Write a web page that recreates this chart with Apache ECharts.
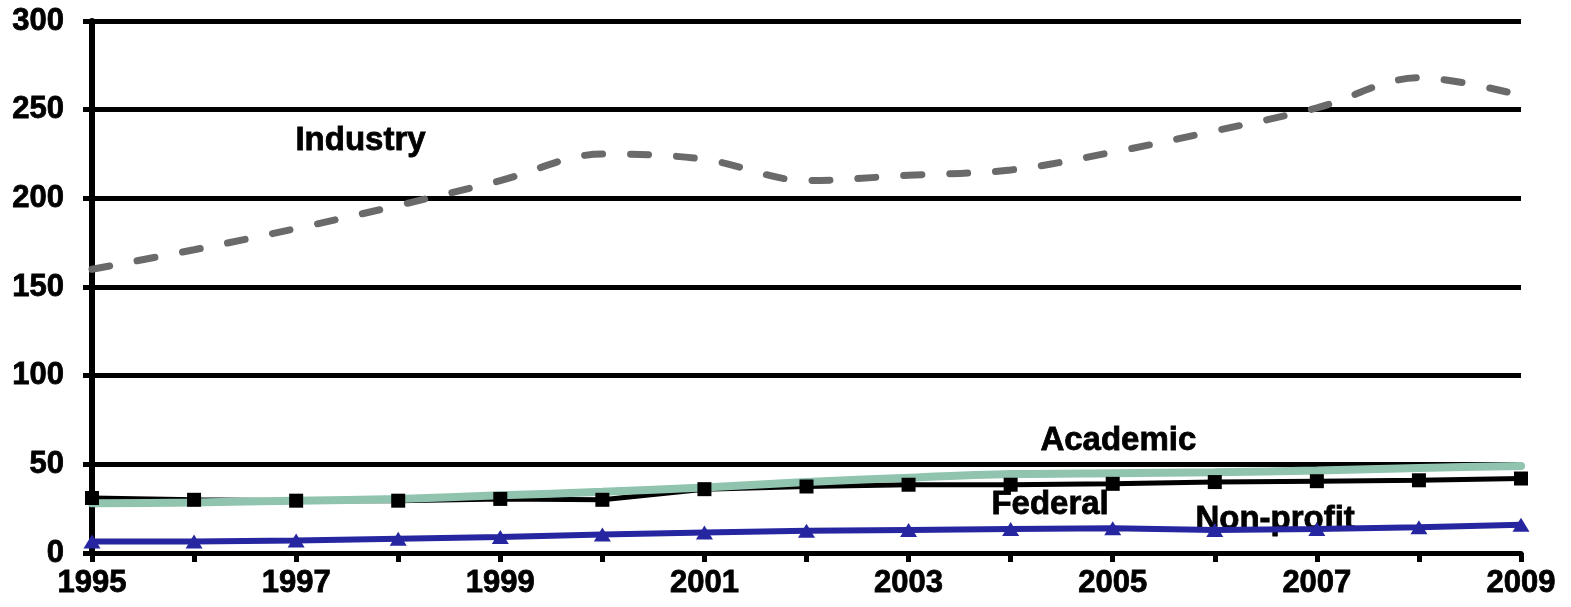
<!DOCTYPE html>
<html>
<head>
<meta charset="utf-8">
<script src="https://cdn.jsdelivr.net/npm/echarts@6/dist/echarts.min.js"></script>
<style>
  html, body { margin: 0; padding: 0; background: #fff; }
  #chart { width: 1571px; height: 607px; }
</style>
</head>
<body>
<div id="chart"></div>
<script>
// R&D by performing sector, 1995-2009
const years = ['1995','1996','1997','1998','1999','2000','2001','2002','2003','2004','2005','2006','2007','2008','2009'];
const industry  = [160, 171, 183, 196, 210, 225, 222, 210, 213, 216, 226, 238, 251, 268, 258];
const federal   = [31, 30, 29.5, 29.5, 30.5, 30, 36, 37.5, 38.5, 38.5, 39, 40, 40.5, 41, 42];
const academic  = [28, 28.5, 29.5, 30.5, 32.5, 34.5, 37, 40, 42.5, 44.5, 45, 45.5, 46.5, 48, 49];
const nonprofit = [6.5, 6.5, 7, 8, 9, 10.5, 11.5, 12.5, 13, 13.5, 14, 13, 13.5, 14.5, 16];
const yTicks = { min: 0, max: 300, step: 50 };

const FONT = '"Liberation Sans", Arial, sans-serif';
const chart = echarts.init(document.getElementById('chart'));

// heavy bold text: bold face plus a thin outline in the same colour
const heavy = { textBorderColor: '#000', textBorderWidth: 0.8 };

const seriesLabel = (text, x, y) => ({
  type: 'text', left: x, top: y,
  style: { text, font: 'bold 33px ' + FONT, fill: '#000', stroke: '#000', lineWidth: 0.8 }
});

chart.setOption({
  animation: false,
  grid: { left: 92, right: 50, top: 21, bottom: 54 },
  xAxis: {
    type: 'category',
    data: years,
    boundaryGap: false,
    axisLine: { lineStyle: { color: '#000', width: 5 } },
    axisTick: { show: true, interval: 0, length: 9, lineStyle: { color: '#000', width: 5 } },
    axisLabel: Object.assign({ interval: 1, margin: 15, color: '#000', fontFamily: FONT, fontWeight: 'bold', fontSize: 31 }, heavy),
    splitLine: { show: false }
  },
  yAxis: {
    type: 'value',
    min: yTicks.min, max: yTicks.max, interval: yTicks.step,
    axisLine: { show: true, lineStyle: { color: '#000', width: 6 } },
    axisTick: { show: true, length: 9, lineStyle: { color: '#000', width: 5 } },
    axisLabel: Object.assign({ margin: 28, color: '#000', fontFamily: FONT, fontWeight: 'bold', fontSize: 31 }, heavy),
    splitLine: { show: true, lineStyle: { color: '#000', width: 5 } }
  },
  series: [
    {
      name: 'Industry', type: 'line', data: industry, smooth: 0.35,
      showSymbol: false, symbol: 'none',
      lineStyle: { color: '#6a6a6a', width: 7, type: [18, 28], cap: 'round' }
    },
    {
      name: 'Federal', type: 'line', data: federal,
      symbol: 'rect', symbolSize: 14,
      itemStyle: { color: '#000' },
      lineStyle: { color: '#000', width: 5 }
    },
    {
      name: 'Academic', type: 'line', data: academic, smooth: 0.3,
      showSymbol: false, symbol: 'none',
      lineStyle: { color: '#90c4ae', width: 8, cap: 'round' }
    },
    {
      name: 'Non-profit', type: 'line', data: nonprofit,
      symbol: 'triangle', symbolSize: [17, 14],
      itemStyle: { color: '#2626a0' },
      lineStyle: { color: '#2626a0', width: 6 }
    }
  ],
  graphic: [
    seriesLabel('Industry', 295, 124),
    seriesLabel('Academic', 1040, 424),
    seriesLabel('Federal', 991, 488),
    seriesLabel('Non-profit', 1195, 503)
  ]
});
</script>
</body>
</html>
